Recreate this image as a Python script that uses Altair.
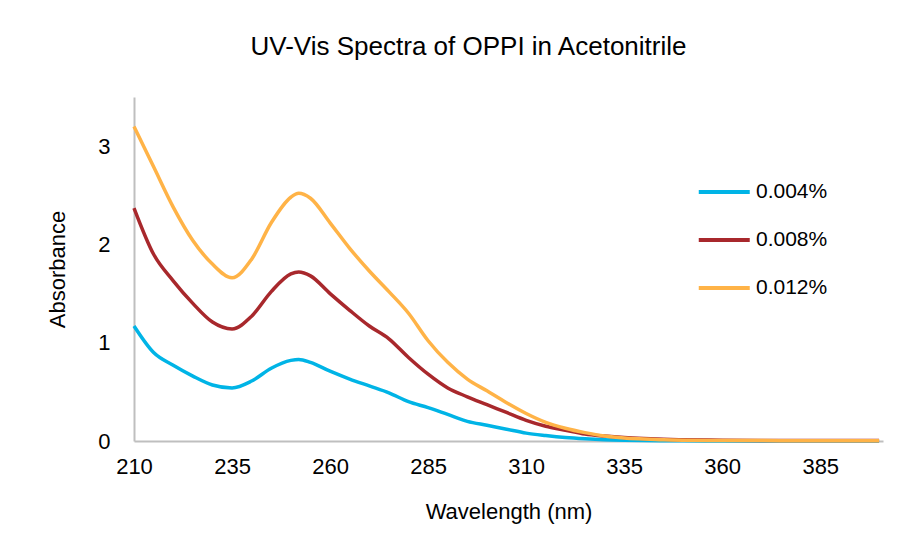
import altair as alt
import pandas as pd

wavelength = [210, 215, 220, 225, 230, 235, 240, 245, 250, 252, 255, 260, 265, 270, 275,
              280, 285, 290, 295, 300, 305, 310, 315, 320, 325, 330, 335, 340, 345, 350,
              360, 370, 380, 390, 400]
abs_004 = [1.17, 0.90, 0.77, 0.66, 0.57, 0.54, 0.61, 0.74, 0.82, 0.83, 0.80, 0.71, 0.63, 0.56, 0.49,
           0.40, 0.34, 0.27, 0.20, 0.16, 0.12, 0.08, 0.055, 0.035, 0.022, 0.013, 0.008, 0.005, 0.003, 0.002,
           0.001, 0.001, 0.001, 0.001, 0.001]
abs_008 = [2.37, 1.90, 1.63, 1.40, 1.21, 1.14, 1.27, 1.52, 1.70, 1.72, 1.68, 1.50, 1.33, 1.17, 1.04,
           0.85, 0.68, 0.54, 0.45, 0.37, 0.29, 0.21, 0.15, 0.11, 0.07, 0.05, 0.035, 0.025, 0.018, 0.013,
           0.008, 0.006, 0.005, 0.005, 0.005]
abs_012 = [3.20, 2.79, 2.38, 2.04, 1.80, 1.66, 1.85, 2.22, 2.48, 2.52, 2.47, 2.22, 1.96, 1.73, 1.52,
           1.30, 1.02, 0.80, 0.63, 0.51, 0.39, 0.28, 0.19, 0.13, 0.085, 0.05, 0.03, 0.02, 0.012, 0.008,
           0.005, 0.004, 0.003, 0.003, 0.003]
series_names = ["0.004%", "0.008%", "0.012%"]
series_colors = ["#00B4E6", "#A8282C", "#FFB347"]
x_ticks = [210, 235, 260, 285, 310, 335, 360, 385]
y_ticks = [0, 1, 2, 3]

rows = []
for name, vals in zip(series_names, [abs_004, abs_008, abs_012]):
    for w, v in zip(wavelength, vals):
        rows.append({"Wavelength": w, "Absorbance": v, "Series": name})
df = pd.DataFrame(rows)

FONT = "Liberation Sans"

chart = alt.Chart(df).mark_line(strokeWidth=3.5, interpolate="monotone").encode(
    x=alt.X("Wavelength:Q",
            scale=alt.Scale(domain=[210, 401], nice=False, zero=False),
            axis=alt.Axis(values=x_ticks, title="Wavelength (nm)", labelPadding=15,
                          titlePadding=24, labelFlush=False)),
    y=alt.Y("Absorbance:Q",
            scale=alt.Scale(domain=[0, 3.5], nice=False),
            axis=alt.Axis(values=y_ticks, title="Absorbance", labelPadding=24,
                          titlePadding=28)),
    color=alt.Color("Series:N",
                    scale=alt.Scale(domain=series_names, range=series_colors),
                    legend=alt.Legend(title=None, orient="none", legendX=588, legendY=80,
                                      symbolType="M-3,0H1", symbolSize=650,
                                      symbolStrokeWidth=4, labelOffset=4,
                                      rowPadding=23, padding=0,
                                      labelFont=FONT, labelFontSize=21,
                                      labelColor="#000000")),
).properties(
    width=749,
    height=344,
    title=alt.TitleParams("UV-Vis Spectra of OPPI in Acetonitrile", font=FONT,
                          fontSize=26, fontWeight="normal", color="#000000",
                          anchor="middle", dx=-40, offset=37),
    autosize=alt.AutoSizeParams(type="none"),
    padding={"left": 126, "top": 89, "right": 26, "bottom": 107},
).configure_view(stroke=None).configure_axis(
    grid=False, ticks=False, domainColor="#BFBFBF", domainWidth=2,
    labelFont=FONT, labelFontSize=22, labelColor="#000000",
    titleFont=FONT, titleFontSize=22, titleFontWeight="normal", titleColor="#000000",
)

chart.save("out.html", embed_options={"renderer": "svg", "actions": False})
